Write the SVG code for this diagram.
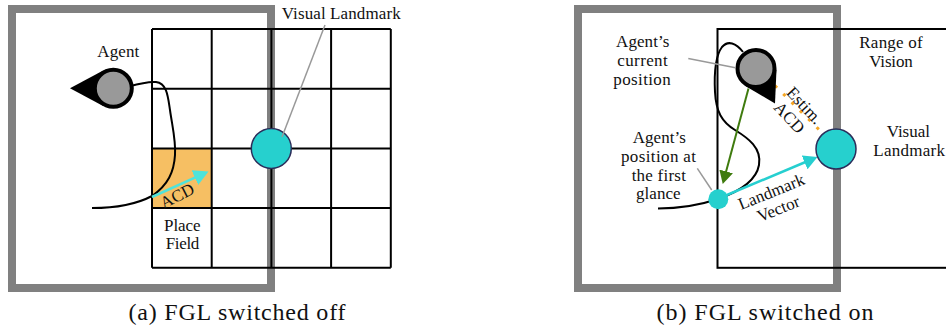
<svg xmlns="http://www.w3.org/2000/svg" width="946" height="328" viewBox="0 0 946 328">
  <style>
    text { font-family: "Liberation Serif", "Times New Roman", serif; font-size: 17px; fill: #111; }
    .mid { text-anchor: middle; }
    .cap { font-size: 24px; }
    .frame { fill: none; stroke: #808080; stroke-width: 8; }
    .grid { fill: none; stroke: #000; stroke-width: 2; }
    .landmark { fill: #26D0CE; stroke: #2B2D5A; stroke-width: 1.5; }
    .agent { fill: #999; stroke: #000; stroke-width: 4; }
    .track { fill: none; stroke: #000; stroke-width: 2; }
    .leader { stroke: #999; stroke-width: 1.5; fill: none; }
  </style>
  <defs>
    <marker id="head-acd" viewBox="0 0 15 16" refX="11" refY="8" markerWidth="15" markerHeight="16" markerUnits="userSpaceOnUse" orient="auto">
      <path d="M0,0 L15,8 L0,16 z" fill="#4FE3DA"/>
    </marker>
    <marker id="head-green" viewBox="0 0 13 14" refX="9" refY="7" markerWidth="13" markerHeight="14" markerUnits="userSpaceOnUse" orient="auto">
      <path d="M0,0 L13,7 L0,14 z" fill="#3F7B0E"/>
    </marker>
    <marker id="head-cyan" viewBox="0 0 14 15" refX="10" refY="7.5" markerWidth="14" markerHeight="15" markerUnits="userSpaceOnUse" orient="auto">
      <path d="M0,0 L14,7.5 L0,15 z" fill="#26CFD0"/>
    </marker>
  </defs>

  <!-- (a) FGL switched off -->
  <g id="arena-a">
    <rect class="frame" x="12" y="9" width="259" height="279"/>
  </g>
  <g id="place-field">
    <rect x="152" y="148.4" width="59.7" height="59.7" fill="#F6BF63"/>
  </g>
  <g id="grid-a">
    <path class="grid" d="M152,29 V267.8 M211.7,29 V267.8 M271.4,29 V267.8 M331.1,29 V267.8 M390.8,29 V267.8 M152,29 H390.8 M152,88.7 H390.8 M152,148.4 H390.8 M152,208.1 H390.8 M152,267.8 H390.8"/>
  </g>

  <g id="connectors-a">
    <path class="track" d="M120,89 C135,85 145,81 156,82 C167,83 168,97 170,110 C172,125 176,140 175,155 C174,172 168,185 152,196 C135,205 112,208 92,208"/>
    <line x1="152" y1="197" x2="204.9" y2="173.1" stroke="#4FE3DA" stroke-width="2.5" marker-end="url(#head-acd)"/>
  </g>

  <g id="landmark-a">
    <circle class="landmark" cx="271.3" cy="148.4" r="20"/>
    <line class="leader" x1="325" y1="25" x2="282" y2="137"/>
    <text x="281.7" y="19" textLength="119" lengthAdjust="spacing">Visual Landmark</text>
  </g>

  <g id="agent-a">
    <polygon points="70,88.3 103.6,70.3 103.6,106.3" fill="#000"/>
    <circle class="agent" cx="113.3" cy="88.3" r="18.5"/>
    <text class="mid" x="118.3" y="56.7" textLength="42" lengthAdjust="spacing">Agent</text>
  </g>

  <g id="labels-a">
    <text class="mid" x="182.3" y="231" textLength="36.7" lengthAdjust="spacing">Place</text>
    <text class="mid" x="182.5" y="249.3" textLength="33.6" lengthAdjust="spacing">Field</text>
    <text class="mid" transform="translate(179.8,200.8) rotate(-27)">ACD</text>
  </g>

  <text class="cap mid" x="237" y="319.5" textLength="217" lengthAdjust="spacing">(a) FGL switched off</text>

  <!-- (b) FGL switched on -->
  <g id="arena-b">
    <rect class="frame" x="578" y="9" width="259" height="279"/>
  </g>
  <g id="range-of-vision">
    <rect x="717.5" y="29" width="260" height="238.8" fill="none" stroke="#000" stroke-width="2"/>
    <text class="mid" x="891" y="47.7" textLength="63.4" lengthAdjust="spacing">Range of</text>
    <text class="mid" x="891" y="67" textLength="43.4" lengthAdjust="spacing">Vision</text>
  </g>

  <g id="connectors-b">
    <path class="track" d="M658,208.5 C682,208.5 700,205 718,199 C738,192 756,182 759,165 C762,148 748,138 735,130 C722,122 716,112 715,92 C714,72 716,55 722,47 C728,40 736,43 743,52"/>
    <line x1="748.5" y1="88.5" x2="723.8" y2="180.1" stroke="#3F7B0E" stroke-width="2" marker-end="url(#head-green)"/>
    <line x1="721" y1="197.5" x2="813.8" y2="158.5" stroke="#26CFD0" stroke-width="2.5" marker-end="url(#head-cyan)"/>
    <line x1="774.9" y1="85.6" x2="818.8" y2="129.4" stroke="#F5A623" stroke-width="3" stroke-dasharray="3 8.8"/>
    <text class="mid" transform="translate(773.5,197) rotate(-22)">Landmark</text>
    <text class="mid" transform="translate(780.5,214) rotate(-22)">Vector</text>
    <text class="mid" transform="translate(800.5,109.4) rotate(47)">Estim.</text>
    <text class="mid" transform="translate(785.3,121.5) rotate(47)">ACD</text>
  </g>

  <g id="first-glance">
    <circle cx="718.3" cy="199.3" r="10" fill="#26D0CE"/>
    <line class="leader" x1="697.3" y1="168.3" x2="711.7" y2="190"/>
    <text class="mid" x="659.3" y="143.3" textLength="53.3" lengthAdjust="spacing">Agent’s</text>
    <text class="mid" x="658.5" y="162" textLength="75" lengthAdjust="spacing">position at</text>
    <text class="mid" x="658.8" y="180.7" textLength="54.3" lengthAdjust="spacing">the first</text>
    <text class="mid" x="658.3" y="199.4" textLength="44.7" lengthAdjust="spacing">glance</text>
  </g>

  <g id="landmark-b">
    <circle class="landmark" cx="836" cy="149" r="20"/>
    <text class="mid" x="908.3" y="136.7" textLength="43.3" lengthAdjust="spacing">Visual</text>
    <text class="mid" x="909.2" y="156" textLength="71.7" lengthAdjust="spacing">Landmark</text>
  </g>

  <g id="agent-b">
    <polygon points="775,103.5 745.8,86.3 776.5,69.4" fill="#000"/>
    <circle class="agent" cx="756" cy="68.5" r="18.5"/>
    <line class="leader" x1="688.3" y1="58.5" x2="735.5" y2="67.7"/>
    <text class="mid" x="642.7" y="46.7" textLength="53.3" lengthAdjust="spacing">Agent’s</text>
    <text class="mid" x="642.5" y="65.7" textLength="50.4" lengthAdjust="spacing">current</text>
    <text class="mid" x="642" y="84.5" textLength="57.4" lengthAdjust="spacing">position</text>
  </g>

  <text class="cap mid" x="765" y="319.5" textLength="217" lengthAdjust="spacing">(b) FGL switched on</text>
</svg>
